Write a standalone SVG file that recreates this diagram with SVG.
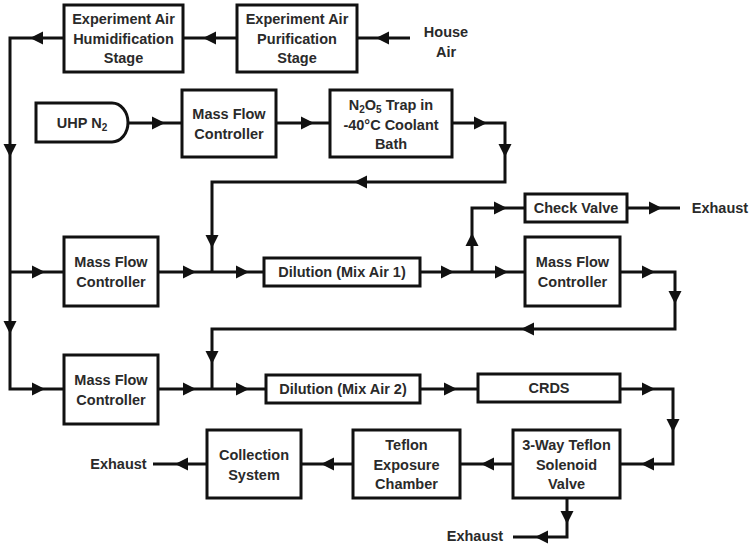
<svg xmlns="http://www.w3.org/2000/svg" xmlns:xlink="http://www.w3.org/1999/xlink" width="750" height="550" viewBox="0 0 750 550">
<style>
.box{fill:#fff;stroke:#111;stroke-width:3}
.ln{fill:none;stroke:#111;stroke-width:3}
text{font-family:"Liberation Sans",Arial,sans-serif;font-weight:bold;font-size:14.5px;fill:#2a2a2a;text-anchor:middle;dominant-baseline:central}
.ah{fill:#111}
</style>
<defs>
<path id="ar" d="M-6,-6.5 L7,0 L-6,6.5 Z"/>
</defs>
<rect width="750" height="550" fill="#fff"/>
<g id="connectors">
<polyline class="ln" points="410,38 357,38"/>
<polyline class="ln" points="237,38 183,38"/>
<polyline class="ln" points="64,38 10,38 10,389 64,389"/>
<polyline class="ln" points="10,272 64,272"/>
<polyline class="ln" points="128,123 182,123"/>
<polyline class="ln" points="276,123 330,123"/>
<polyline class="ln" points="452,123 505,123 505,182 212,182 212,272"/>
<polyline class="ln" points="158,272 264,272"/>
<polyline class="ln" points="420,272 525,272"/>
<polyline class="ln" points="472,272 472,208 525,208"/>
<polyline class="ln" points="627,208 680,208"/>
<polyline class="ln" points="620,272 675,272 675,329 212,329 212,389"/>
<polyline class="ln" points="158,389 266,389"/>
<polyline class="ln" points="420,389 478,389"/>
<polyline class="ln" points="620,389 673,389 673,464 620,464"/>
<polyline class="ln" points="513,464 460,464"/>
<polyline class="ln" points="353,464 301,464"/>
<polyline class="ln" points="207,464 153,464"/>
<polyline class="ln" points="567,498 567,537 513,537"/>
<g class="ah">
<use xlink:href="#ar" transform="translate(383,38) rotate(180)"/>
<use xlink:href="#ar" transform="translate(210,38) rotate(180)"/>
<use xlink:href="#ar" transform="translate(37,38) rotate(180)"/>
<use xlink:href="#ar" transform="translate(10,150) rotate(90)"/>
<use xlink:href="#ar" transform="translate(10,327) rotate(90)"/>
<use xlink:href="#ar" transform="translate(158,123)"/>
<use xlink:href="#ar" transform="translate(307,123)"/>
<use xlink:href="#ar" transform="translate(480,123)"/>
<use xlink:href="#ar" transform="translate(505,150) rotate(90)"/>
<use xlink:href="#ar" transform="translate(361,182) rotate(180)"/>
<use xlink:href="#ar" transform="translate(212,241) rotate(90)"/>
<use xlink:href="#ar" transform="translate(38,272)"/>
<use xlink:href="#ar" transform="translate(189,272)"/>
<use xlink:href="#ar" transform="translate(242,272)"/>
<use xlink:href="#ar" transform="translate(447,272)"/>
<use xlink:href="#ar" transform="translate(501,272)"/>
<use xlink:href="#ar" transform="translate(472,240) rotate(-90)"/>
<use xlink:href="#ar" transform="translate(500,208)"/>
<use xlink:href="#ar" transform="translate(655,208)"/>
<use xlink:href="#ar" transform="translate(648,272)"/>
<use xlink:href="#ar" transform="translate(675,297) rotate(90)"/>
<use xlink:href="#ar" transform="translate(528,329) rotate(180)"/>
<use xlink:href="#ar" transform="translate(212,357) rotate(90)"/>
<use xlink:href="#ar" transform="translate(38,389)"/>
<use xlink:href="#ar" transform="translate(189,389)"/>
<use xlink:href="#ar" transform="translate(242,389)"/>
<use xlink:href="#ar" transform="translate(450,389)"/>
<use xlink:href="#ar" transform="translate(648,389)"/>
<use xlink:href="#ar" transform="translate(673,425) rotate(90)"/>
<use xlink:href="#ar" transform="translate(648,464) rotate(180)"/>
<use xlink:href="#ar" transform="translate(488,464) rotate(180)"/>
<use xlink:href="#ar" transform="translate(328,464) rotate(180)"/>
<use xlink:href="#ar" transform="translate(182,464) rotate(180)"/>
<use xlink:href="#ar" transform="translate(567,517) rotate(90)"/>
<use xlink:href="#ar" transform="translate(542,537) rotate(180)"/>
</g>
</g>
<g id="humid"><rect class="box" x="64" y="5" width="119" height="67"/><text x="123.5" y="19">Experiment Air</text><text x="123.5" y="38.5">Humidification</text><text x="123.5" y="58">Stage</text></g>
<g id="purif"><rect class="box" x="237" y="5" width="120" height="67"/><text x="297" y="19">Experiment Air</text><text x="297" y="38.5">Purification</text><text x="297" y="58">Stage</text></g>
<g id="house"><text x="446" y="32">House</text><text x="446" y="52">Air</text></g>
<g id="uhp"><path class="box" d="M36,103 H112 A16,19.5 0 0 1 112,142 H36 Z"/><text x="82" y="123">UHP N<tspan font-size="10" dy="4">2</tspan></text></g>
<g id="mfc1"><rect class="box" x="182" y="90" width="94" height="67"/><text x="229" y="114">Mass Flow</text><text x="229" y="134">Controller</text></g>
<g id="trap"><rect class="box" x="330" y="90" width="122" height="67"/><text x="391" y="105">N<tspan font-size="10" dy="4">2</tspan><tspan dy="-4">O</tspan><tspan font-size="10" dy="4">5</tspan><tspan dy="-4"> Trap in</tspan></text><text x="391" y="124.5">-40°C Coolant</text><text x="391" y="144">Bath</text></g>
<g id="mfc2"><rect class="box" x="64" y="237" width="94" height="69"/><text x="111" y="262">Mass Flow</text><text x="111" y="282">Controller</text></g>
<g id="dil1"><rect class="box" x="264" y="258" width="156" height="28"/><text x="342" y="272">Dilution (Mix Air 1)</text></g>
<g id="check"><rect class="box" x="525" y="194" width="102" height="28"/><text x="576" y="208">Check Valve</text></g>
<g id="exh1"><text x="720" y="208">Exhaust</text></g>
<g id="mfc3"><rect class="box" x="525" y="237" width="95" height="69"/><text x="572.5" y="262">Mass Flow</text><text x="572.5" y="282">Controller</text></g>
<g id="mfc4"><rect class="box" x="64" y="355" width="94" height="69"/><text x="111" y="380">Mass Flow</text><text x="111" y="400">Controller</text></g>
<g id="dil2"><rect class="box" x="266" y="375" width="154" height="28"/><text x="343" y="389">Dilution (Mix Air 2)</text></g>
<g id="crds"><rect class="box" x="478" y="374" width="142" height="28"/><text x="549" y="388">CRDS</text></g>
<g id="valve"><rect class="box" x="513" y="430" width="107" height="68"/><text x="566.5" y="445">3-Way Teflon</text><text x="566.5" y="464.5">Solenoid</text><text x="566.5" y="484">Valve</text></g>
<g id="chamber"><rect class="box" x="353" y="430" width="107" height="68"/><text x="406.5" y="445">Teflon</text><text x="406.5" y="464.5">Exposure</text><text x="406.5" y="484">Chamber</text></g>
<g id="collect"><rect class="box" x="207" y="430" width="94" height="68"/><text x="254" y="455">Collection</text><text x="254" y="475">System</text></g>
<g id="exh2"><text x="118.5" y="464">Exhaust</text></g>
<g id="exh3"><text x="475" y="536">Exhaust</text></g>
</svg>
